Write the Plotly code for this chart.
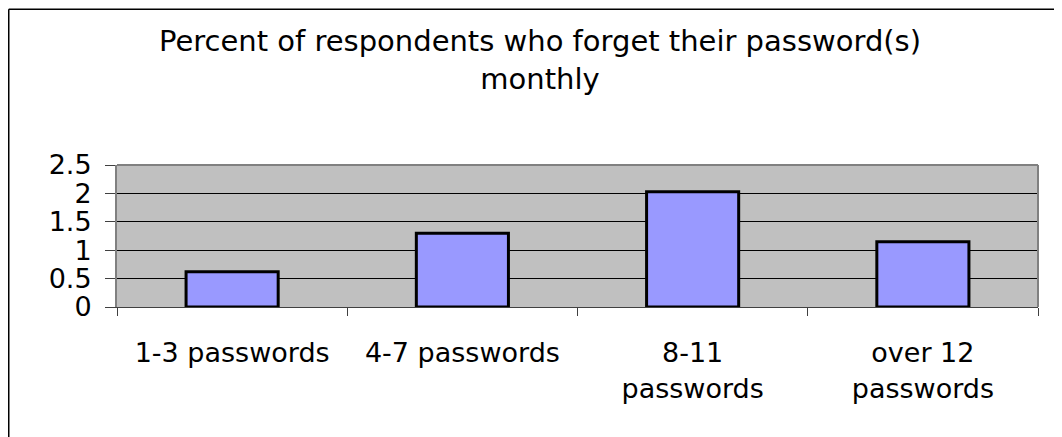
import plotly.graph_objects as go

categories = ["1-3 passwords", "4-7 passwords", "8-11 passwords", "over 12 passwords"]
tick_labels = ["1-3 passwords", "4-7 passwords", "8-11<br>passwords", "over 12<br>passwords"]
values = [0.62, 1.30, 2.03, 1.15]
y_ticks = [0, 0.5, 1, 1.5, 2, 2.5]
title_text = "Percent of respondents who forget their password(s)<br>monthly"

# page body adds an 8px offset; positions below are in figure coordinates
W, H = 1062, 437
L, T = 109, 157
PLOT_R, PLOT_B = 1030, 299
R = W - PLOT_R
B = H - PLOT_B
pw = PLOT_R - L
ph = PLOT_B - T

def px_x(x):
    return (x - L) / pw

def px_y(y):
    return (PLOT_B - y) / ph

FONT = "DejaVu Sans"

fig = go.Figure(
    go.Bar(
        x=categories,
        y=values,
        marker=dict(color="#9999FF", line=dict(color="black", width=3)),
    )
)

fig.update_layout(
    width=W,
    height=H,
    margin=dict(l=L, r=R, t=T, b=B, pad=0),
    paper_bgcolor="white",
    plot_bgcolor="#C0C0C0",
    bargap=0.6,
    showlegend=False,
    font=dict(family=FONT, color="black"),
    title=dict(
        text=title_text,
        font=dict(family=FONT, size=29, color="black"),
        x=532 / W,
        xanchor="center",
        xref="container",
        yref="container",
        y=1 - 43 / H,
        yanchor="middle",
    ),
)

fig.update_xaxes(
    type="category",
    tickvals=categories,
    ticktext=tick_labels,
    tickson="boundaries",
    ticks="outside",
    ticklen=8,
    tickcolor="#404040",
    tickfont=dict(family=FONT, size=27, color="black"),
    showline=True,
    linecolor="#404040",
    linewidth=1,
    showgrid=False,
    mirror=False,
    ticklabelstandoff=22,
)

fig.update_yaxes(
    range=[0, 2.5],
    tickvals=y_ticks,
    ticktext=[f"{v:g}" for v in y_ticks],
    ticks="outside",
    ticklen=10,
    tickcolor="#404040",
    tickfont=dict(family=FONT, size=27, color="black"),
    showline=True,
    linecolor="#808080",
    linewidth=2,
    showgrid=True,
    gridcolor="black",
    gridwidth=1,
    zeroline=False,
    ticklabelstandoff=8,
)

shapes = [
    # plot area top and right border (gray)
    dict(type="line", xref="paper", yref="paper", x0=0, x1=1, y0=1, y1=1,
         line=dict(color="#808080", width=2)),
    dict(type="line", xref="paper", yref="paper", x0=1, x1=1, y0=0, y1=1,
         line=dict(color="#808080", width=2)),
    # outer chart frame (top and left edges visible)
    dict(type="line", xref="paper", yref="paper", x0=px_x(0.75), x1=px_x(1100),
         y0=px_y(1.25), y1=px_y(1.25), line=dict(color="black", width=1.5)),
    dict(type="line", xref="paper", yref="paper", x0=px_x(0.75), x1=px_x(0.75),
         y0=px_y(1.25), y1=px_y(460), line=dict(color="black", width=1.5)),
]
fig.update_layout(shapes=shapes)

fig.write_html("out.html")
